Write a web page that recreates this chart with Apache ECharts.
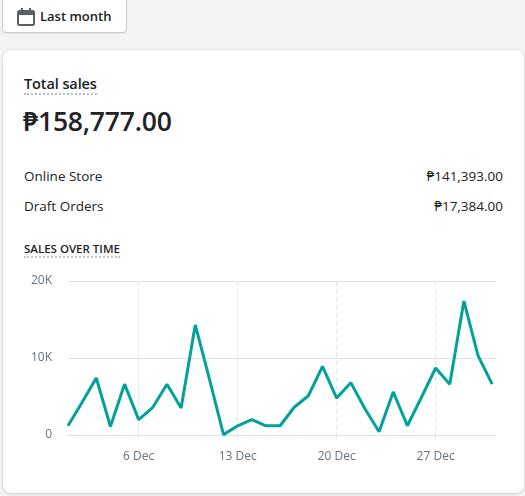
<!DOCTYPE html>
<html>
<head>
<meta charset="utf-8">
<script src="https://cdn.jsdelivr.net/npm/echarts@6/dist/echarts.min.js"></script>
<style>
  html, body { margin:0; padding:0; width:525px; height:496px; background:#f4f4f4; overflow:hidden;
    font-family: "Open Sans", "Noto Sans", "DejaVu Sans", sans-serif; color:#202223; }
  .btn { position:absolute; left:2px; top:-4px; width:125px; height:37px; background:#fff;
    border:1px solid #c9cccf; border-radius:4px; box-shadow:0 1px 0 rgba(0,0,0,0.08); box-sizing:border-box; }
  .btn svg { position:absolute; left:14px; top:11px; }
  .btn span { position:absolute; left:37px; top:11px; font-size:13px; font-weight:600; line-height:16px; color:#202223; }
  .card { position:absolute; left:3px; top:50px; width:521px; height:443px; background:#fff; border-radius:8px;
    box-shadow:0 0 0 1px rgba(63,63,68,0.05), 0 1px 3px rgba(63,63,68,0.18); }
  .t1 { position:absolute; left:24px; top:74px; font-size:14.5px; font-weight:600; line-height:19px;
    border-bottom:2px dotted #b9bdc2; letter-spacing:-0.1px; }
  .big { position:absolute; left:23px; top:103px; font-size:26.5px; font-weight:600; line-height:36px; letter-spacing:-0.2px; }
  .row { position:absolute; left:24px; right:22px; font-size:13.5px; line-height:18px; }
  .row .v { position:absolute; right:0; top:0; }
  .t2 { position:absolute; left:24px; top:241px; font-size:11.5px; font-weight:600; line-height:15px;
    border-bottom:2px dotted #c3c7cc; }
  #chart { position:absolute; left:0; top:260px; width:525px; height:236px; }
</style>
</head>
<body>
<div class="btn">
  <svg width="18" height="18" viewBox="0 0 18 18">
    <rect x="1" y="3" width="16" height="14" rx="1.5" fill="none" stroke="#5c5f62" stroke-width="2"/>
    <rect x="1" y="3" width="16" height="4" fill="#5c5f62"/>
    <rect x="4" y="0" width="2" height="4" fill="#5c5f62"/>
    <rect x="12" y="0" width="2" height="4" fill="#5c5f62"/>
  </svg>
  <span>Last month</span>
</div>
<div class="card"></div>
<div class="t1">Total sales</div>
<div class="big">₱158,777.00</div>
<div class="row" style="top:167px;"><span>Online Store</span><span class="v">₱141,393.00</span></div>
<div class="row" style="top:197px;"><span>Draft Orders</span><span class="v">₱17,384.00</span></div>
<div class="t2">SALES OVER TIME</div>
<div id="chart"></div>
<script>
const days = ['1 Dec','2 Dec','3 Dec','4 Dec','5 Dec','6 Dec','7 Dec','8 Dec','9 Dec','10 Dec',
  '11 Dec','12 Dec','13 Dec','14 Dec','15 Dec','16 Dec','17 Dec','18 Dec','19 Dec','20 Dec',
  '21 Dec','22 Dec','23 Dec','24 Dec','25 Dec','26 Dec','27 Dec','28 Dec','29 Dec','30 Dec','31 Dec'];
const sales = [1200, 4250, 7400, 1100, 6600, 2000, 3600, 6600, 3500, 14300,
  7300, 50, 1200, 2000, 1200, 1200, 3600, 5100, 8900, 4800,
  6800, 3400, 430, 5600, 1200, 4900, 8700, 6600, 17400, 10300, 6600];
const yTicks = [0, 10000, 20000];
const labelIdx = [5, 12, 19, 26];

const chart = echarts.init(document.getElementById('chart'));
const fontFam = '"Open Sans", "Noto Sans", sans-serif';
chart.setOption({
  animation: false,
  grid: { left: 68, right: 29, top: 21, bottom: 61 },
  xAxis: {
    type: 'value', min: 0, max: 30.27,
    axisLine: { show: true, onZero: false, lineStyle: { color: '#dfe3e8', width: 1 } },
    axisTick: { show: true, length: 4, customValues: labelIdx, lineStyle: { color: '#dfe3e8' } },
    axisLabel: { customValues: labelIdx, color: '#637381', fontSize: 12, margin: 16, fontFamily: fontFam,
      formatter: (v) => days[Math.round(v)] || '' },
    splitLine: { show: true, lineStyle: { color: '#dfe3e8', type: [4, 4] } }
  },
  yAxis: {
    type: 'value', min: yTicks[0], max: yTicks[yTicks.length - 1], interval: 10000,
    axisLine: { show: false }, axisTick: { show: false },
    axisLabel: { color: '#637381', fontSize: 12, margin: 16, fontFamily: fontFam,
      formatter: (v) => v === 0 ? '0' : (v / 1000) + 'K' },
    splitLine: { lineStyle: { color: '#dfe3e8', width: 1 } }
  },
  series: [{
    type: 'line', data: sales.map((v, i) => [i, v]), showSymbol: false, symbol: 'none',
    lineStyle: { color: '#02a29b', width: 3 }, itemStyle: { color: '#02a29b' }
  }]
});
</script>
</body>
</html>
